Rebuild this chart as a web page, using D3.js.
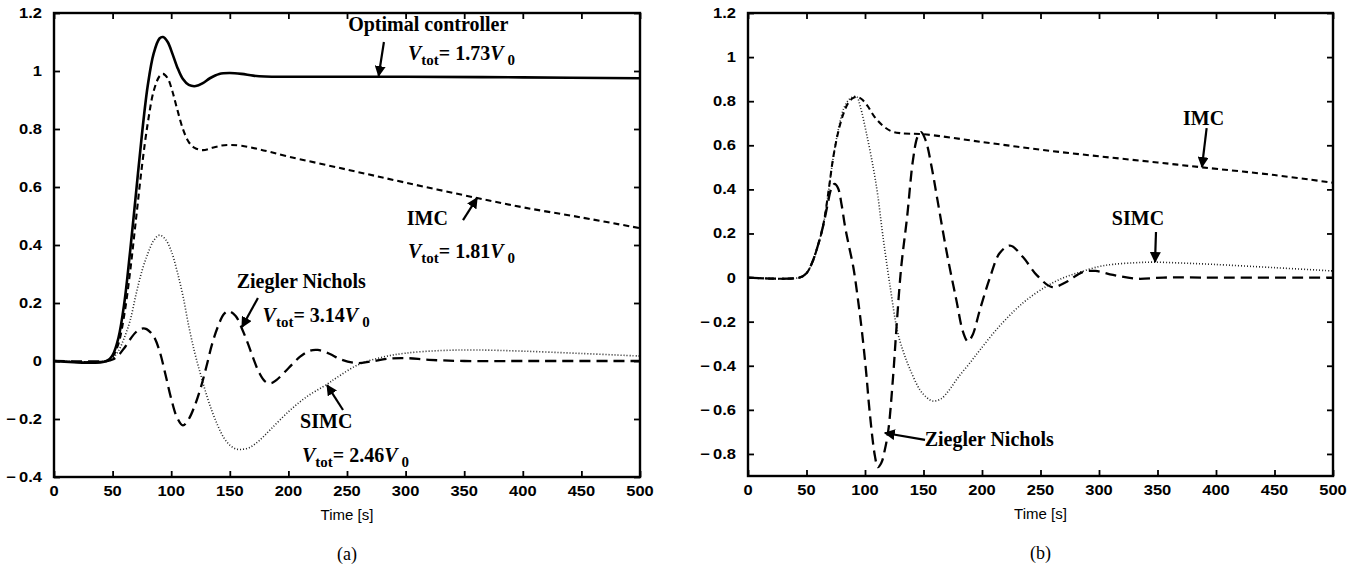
<!DOCTYPE html>
<html><head><meta charset="utf-8">
<script src="https://cdn.jsdelivr.net/npm/d3@7"></script>
<style>
html,body{margin:0;padding:0;background:#fff;}
svg{display:block;}
text.tl{font-family:'Liberation Sans',Arial,sans-serif;font-weight:bold;font-size:14px;fill:#000;}
</style></head>
<body>
<svg id="chart" width="1360" height="568"></svg>
<script>
// ---------------- DATA ----------------
const xTicks = [0, 50, 100, 150, 200, 250, 300, 350, 400, 450, 500];
const yTicksA = [-0.4, -0.2, 0, 0.2, 0.4, 0.6, 0.8, 1, 1.2];
const yTicksB = [-0.8, -0.6, -0.4, -0.2, 0, 0.2, 0.4, 0.6, 0.8, 1, 1.2];
const xLabel = "Time [s]";

// Panel (a)
const optA = [[0,0],[45,0],[50,0.02],[55,0.08],[60,0.2],[65,0.38],[70,0.58],[75,0.78],[80,0.95],[85,1.06],[90,1.112],[93,1.117],[97,1.1],[101,1.06],[105,1.015],[110,0.972],[115,0.952],[121,0.948],[127,0.958],[133,0.975],[141,0.99],[150,0.993],[160,0.99],[170,0.984],[180,0.981],[200,0.98],[250,0.98],[300,0.98],[400,0.978],[500,0.975]];
const imcA = [[0,0],[45,0],[50,0.015],[55,0.06],[60,0.16],[65,0.31],[70,0.49],[75,0.67],[80,0.82],[85,0.93],[90,0.982],[93,0.99],[97,0.975],[101,0.93],[105,0.87],[110,0.8],[115,0.755],[120,0.735],[127,0.727],[135,0.735],[143,0.743],[150,0.745],[160,0.742],[175,0.73],[200,0.705],[250,0.66],[300,0.615],[361,0.562],[400,0.53],[450,0.495],[500,0.458]];
const znA = [[0,0],[45,0],[50,0.005],[55,0.02],[60,0.045],[65,0.075],[70,0.1],[75,0.112],[79,0.11],[85,0.085],[90,0.035],[95,-0.045],[100,-0.13],[105,-0.195],[110,-0.222],[115,-0.2],[120,-0.155],[125,-0.095],[130,-0.02],[135,0.06],[140,0.12],[145,0.162],[149,0.172],[155,0.155],[160,0.115],[165,0.065],[170,0.01],[175,-0.04],[180,-0.07],[185,-0.077],[190,-0.065],[200,-0.025],[210,0.015],[218,0.035],[225,0.038],[235,0.025],[245,0.005],[258,-0.007],[270,-0.002],[285,0.008],[300,0.01],[320,0.004],[350,0],[400,0],[500,0]];
const simcA = [[0,0],[45,0],[50,0.01],[55,0.035],[60,0.08],[65,0.14],[70,0.23],[75,0.31],[80,0.37],[85,0.415],[90,0.434],[95,0.42],[100,0.38],[105,0.31],[110,0.225],[115,0.12],[120,0.03],[125,-0.045],[130,-0.115],[135,-0.175],[140,-0.225],[145,-0.265],[150,-0.29],[155,-0.303],[160,-0.305],[167,-0.298],[175,-0.275],[185,-0.235],[200,-0.175],[215,-0.125],[233,-0.08],[241,-0.058],[260,-0.012],[280,0.013],[300,0.027],[330,0.036],[360,0.038],[400,0.034],[450,0.026],[500,0.017]];

// Panel (b)
const imcB = [[0,0],[44,0],[50,0.02],[55,0.07],[60,0.15],[64,0.23],[68,0.36],[73,0.55],[78,0.68],[82,0.75],[86,0.795],[90,0.815],[93,0.82],[97,0.81],[102,0.78],[108,0.73],[115,0.69],[122,0.665],[130,0.655],[150,0.65],[200,0.615],[250,0.58],[300,0.55],[350,0.522],[388,0.5],[450,0.465],[500,0.43]];
const znB = [[0,0],[44,0],[50,0.02],[55,0.07],[60,0.15],[64,0.23],[68,0.33],[71,0.4],[74,0.425],[77,0.405],[80,0.33],[83,0.23],[86,0.15],[90,0.048],[94,-0.1],[97.5,-0.25],[101,-0.43],[104,-0.61],[108.5,-0.81],[111,-0.86],[114,-0.84],[117,-0.78],[120,-0.69],[124,-0.45],[127,-0.22],[131,0.05],[136,0.275],[141,0.533],[145,0.64],[148,0.66],[152,0.62],[157,0.5],[162,0.35],[170,0.11],[178,-0.1],[184,-0.25],[188,-0.29],[192,-0.26],[198,-0.15],[207,0.003],[215,0.11],[224,0.145],[235,0.093],[247,0.01],[260,-0.043],[272,-0.02],[286,0.025],[297,0.03],[312,0.012],[332,-0.005],[355,0],[400,0],[500,0]];
const simcB = [[0,0],[44,0],[50,0.02],[55,0.07],[60,0.15],[64,0.23],[68,0.36],[73,0.55],[78,0.69],[82,0.77],[86,0.805],[90,0.82],[93,0.82],[96,0.775],[101,0.66],[107,0.5],[111,0.37],[115,0.2],[121,-0.024],[128,-0.25],[133,-0.34],[138,-0.41],[147,-0.51],[153,-0.545],[158,-0.56],[165,-0.55],[172,-0.51],[180,-0.45],[190,-0.385],[198,-0.33],[215,-0.22],[235,-0.115],[255,-0.04],[270,0],[284,0.025],[300,0.05],[312,0.06],[330,0.067],[346,0.07],[370,0.066],[397,0.06],[450,0.045],[500,0.03]];

// ---------------- LAYOUT / STYLE ----------------
const svg = d3.select("#chart");
const styles = {
  solid: {w: 2.6, dash: null, color: "#000"},
  imc:   {w: 2.1, dash: "6,4", color: "#000"},
  zn:    {w: 2.3, dash: "11,6", color: "#000"},
  simc:  {w: 1.6, dash: "1,2", color: "#222"}
};
const SX = 1.18;

const defs = svg.append("defs");
defs.append("marker")
  .attr("id","ah").attr("viewBox","0 0 10 10").attr("refX",9).attr("refY",5)
  .attr("markerWidth",5).attr("markerHeight",5).attr("markerUnits","strokeWidth")
  .attr("orient","auto")
  .append("path").attr("d","M0,0 L10,5 L0,10 Z").attr("fill","#000");

function fmt(v){
  if (Math.abs(v) < 1e-9) return "0";
  const s = d3.format("~g")(+Math.abs(v).toFixed(2));
  return v < 0 ? "\u2212\u2009" + s : s;
}

function panel(cfg){
  const x = d3.scaleLinear().domain([0,500]).range([cfg.x0, cfg.x1]);
  const y = d3.scaleLinear().domain(cfg.ydom).range([cfg.y1, cfg.y0]);
  const g = svg.append("g");
  const tl = 6;

  const cid = "clip" + cfg.id;
  defs.append("clipPath").attr("id",cid)
    .append("rect").attr("x",cfg.x0).attr("y",cfg.y0).attr("width",cfg.x1-cfg.x0).attr("height",cfg.y1-cfg.y0);
  const line = d3.line().x(d=>x(d[0])).y(d=>y(d[1])).curve(d3.curveCatmullRom.alpha(0.5));
  const cg = g.append("g").attr("clip-path",`url(#${cid})`);
  cfg.series.forEach(s=>{
    const st = styles[s.style];
    cg.append("path").datum(s.data).attr("d",line)
      .attr("fill","none").attr("stroke",st.color).attr("stroke-width",st.w)
      .attr("stroke-dasharray",st.dash).attr("stroke-linejoin","round");
  });

  const axes = [
    g.append("g").attr("transform",`translate(0,${cfg.y1})`).call(d3.axisBottom(x).tickValues(xTicks).tickSize(-tl).tickFormat("")),
    g.append("g").attr("transform",`translate(0,${cfg.y0})`).call(d3.axisTop(x).tickValues(xTicks).tickSize(-tl).tickFormat("")),
    g.append("g").attr("transform",`translate(${cfg.x0},0)`).call(d3.axisLeft(y).tickValues(cfg.yticks).tickSize(-tl).tickFormat("")),
    g.append("g").attr("transform",`translate(${cfg.x1},0)`).call(d3.axisRight(y).tickValues(cfg.yticks).tickSize(-tl).tickFormat(""))
  ];
  axes.forEach(a=>{
    a.select(".domain").remove();
    a.selectAll(".tick line").attr("stroke","#000").attr("stroke-width",1.8);
  });

  g.append("g").selectAll("text").data(xTicks).join("text")
    .attr("class","tl").attr("text-anchor","middle")
    .attr("transform", d=>`translate(${x(d)},${cfg.y1+19}) scale(${SX},1)`)
    .text(d=>d);
  g.append("g").selectAll("text").data(cfg.yticks).join("text")
    .attr("class","tl").attr("text-anchor","end")
    .attr("transform", d=>`translate(${cfg.x0-12},${y(d)+5}) scale(${SX},1)`)
    .text(fmt);

  g.append("rect").attr("x",cfg.x0).attr("y",cfg.y0).attr("width",cfg.x1-cfg.x0).attr("height",cfg.y1-cfg.y0)
    .attr("fill","none").attr("stroke","#000").attr("stroke-width",2.4);

  g.append("text").attr("x",(cfg.x0+cfg.x1)/2).attr("y",cfg.y1+43)
    .attr("text-anchor","middle").attr("font-family","'Liberation Sans', Arial, sans-serif")
    .attr("font-size","15px").text(xLabel);
  g.append("text").attr("x",(cfg.x0+cfg.x1)/2).attr("y",cfg.y1+83)
    .attr("text-anchor","middle").attr("font-family","'Liberation Serif', 'Times New Roman', serif")
    .attr("font-size","18px").text(cfg.caption);

  const fam = "'Liberation Serif', 'Times New Roman', serif";
  cfg.labels.forEach(l=>{
    const t = g.append("text").attr("x",x(l.t)).attr("y",y(l.v))
      .attr("text-anchor",l.anchor||"start")
      .attr("font-family",fam).attr("font-weight","bold").attr("font-size","20px");
    if (l.vtot){
      t.append("tspan").attr("font-style","italic").text("V");
      t.append("tspan").attr("dy",5).attr("font-size","15px").text("tot");
      t.append("tspan").attr("dy",-5).text("= " + l.vtot);
      t.append("tspan").attr("font-style","italic").text("V");
      t.append("tspan").attr("dx",4).attr("dy",5).attr("font-size","15px").text("0");
    } else t.text(l.text);
  });
  cfg.arrows.forEach(a=>{
    g.append("line").attr("x1",x(a[0])).attr("y1",y(a[1])).attr("x2",x(a[2])).attr("y2",y(a[3]))
      .attr("stroke","#000").attr("stroke-width",2.2).attr("marker-end","url(#ah)");
  });
}

panel({
  id:"a", x0:54, x1:640, y0:13, y1:477, ydom:[-0.4,1.2], yticks:yTicksA, caption:"(a)",
  series:[{data:simcA,style:"simc"},{data:znA,style:"zn"},{data:imcA,style:"imc"},{data:optA,style:"solid"}],
  labels:[
    {text:"Optimal controller", t:251, v:1.138},
    {vtot:"1.73", t:302, v:1.038},
    {text:"IMC", t:301, v:0.469},
    {vtot:"1.81", t:302, v:0.355},
    {text:"Ziegler Nichols", t:266, v:0.252, anchor:"end"},
    {vtot:"3.14", t:178, v:0.135},
    {text:"SIMC", t:210, v:-0.231},
    {vtot:"2.46", t:211.6, v:-0.348}
  ],
  arrows:[
    [281.5,1.10,277,0.983],
    [349,0.486,361,0.562],
    [174,0.217,160.4,0.117],
    [246.6,-0.169,233,-0.083]
  ]
});

panel({
  id:"b", x0:748, x1:1333, y0:13, y1:476, ydom:[-0.9,1.2], yticks:yTicksB, caption:"(b)",
  series:[{data:simcB,style:"simc"},{data:znB,style:"zn"},{data:imcB,style:"imc"}],
  labels:[
    {text:"IMC", t:371.8, v:0.692},
    {text:"SIMC", t:311, v:0.239},
    {text:"Ziegler Nichols", t:151, v:-0.764}
  ],
  arrows:[
    [392,0.678,388,0.502],
    [348.7,0.207,347.9,0.071],
    [151.3,-0.736,117,-0.705]
  ]
});
</script>
</body></html>
